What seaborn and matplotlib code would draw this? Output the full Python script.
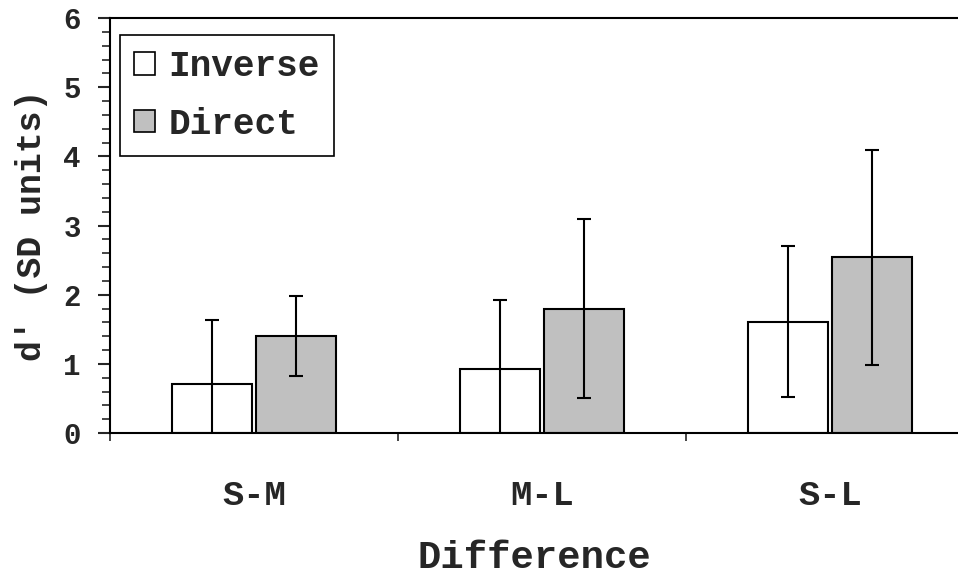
import matplotlib
matplotlib.use("Agg")
import numpy as np
import pandas as pd
import seaborn as sns
import matplotlib.pyplot as plt
from matplotlib.ticker import MultipleLocator, FixedLocator
from matplotlib.patches import Patch

# values
categories = ["S-M", "M-L", "S-L"]
conditions = ["Inverse", "Direct"]
inverse_mean = [0.71, 0.92, 1.61]
inverse_err = [0.92, 1.00, 1.09]
direct_mean = [1.40, 1.80, 2.54]
direct_err = [0.58, 1.29, 1.55]
colors = {"Inverse": "white", "Direct": "#c0c0c0"}

df = pd.DataFrame({
    "Difference": categories * 2,
    "cond": ["Inverse"] * 3 + ["Direct"] * 3,
    "d": inverse_mean + direct_mean,
})
errs = {"Inverse": inverse_err, "Direct": direct_err}

sns.set_style("ticks")
plt.rcParams["font.family"] = ["Liberation Mono", "DejaVu Sans Mono"]
plt.rcParams["font.weight"] = "bold"

fig = plt.figure(figsize=(9.58, 5.75), dpi=100)
ax = fig.add_axes([110 / 958, 1 - 433 / 575, (958 - 110) / 958, 415 / 575])

sns.barplot(data=df, x="Difference", y="d", hue="cond", order=categories,
            hue_order=conditions, palette=colors, edgecolor="black",
            linewidth=1.5, width=0.58, gap=0.04, errorbar=None,
            legend=False, ax=ax)

# error bars on top of each bar
for cont, cond in zip(ax.containers, conditions):
    xs = [p.get_x() + p.get_width() / 2 for p in cont.patches]
    ys = [p.get_height() for p in cont.patches]
    ax.errorbar(xs, ys, yerr=errs[cond], fmt="none", ecolor="black",
                elinewidth=1.5, capsize=5, capthick=1.5, zorder=5)

ax.set_xlim(-0.5, 2.5 - 16 / 288)
ax.set_ylim(0, 6)

ax.yaxis.set_major_locator(MultipleLocator(1))
ax.yaxis.set_minor_locator(MultipleLocator(0.2))
ax.tick_params(axis="y", which="major", length=9, width=1.5, direction="out",
               labelsize=21, pad=12)
ax.tick_params(axis="y", which="minor", length=6, width=1.2, direction="out")

ax.set_xticks([0, 1, 2])
ax.set_xticklabels(categories)
ax.xaxis.set_minor_locator(FixedLocator([-0.5, 0.5, 1.5]))
ax.tick_params(axis="x", which="major", length=0, labelsize=25.5, pad=33)
ax.tick_params(axis="x", which="minor", length=6, width=1.2, direction="out")

for s in ["left", "bottom", "top"]:
    ax.spines[s].set_linewidth(1.5)
    ax.spines[s].set_color("black")
ax.spines["right"].set_visible(False)

ax.set_xlabel("Difference", fontsize=28, fontweight="bold", labelpad=20)
ax.set_ylabel("d' (SD units)", fontsize=25, fontweight="bold", labelpad=11)

handles = [Patch(facecolor=colors[c], edgecolor="black", linewidth=1.2, label=c)
           for c in conditions]
leg = ax.legend(handles=handles, loc="upper left",
                bbox_to_anchor=(10 / 848, 1 - 17 / 415), borderaxespad=0,
                fontsize=26, handlelength=0.58, handleheight=0.58,
                handletextpad=0.36, labelspacing=0.62, borderpad=0.4,
                fancybox=False, framealpha=1, edgecolor="black")
leg.get_frame().set_linewidth(1.2)

fig.savefig("out.png", dpi=100)
